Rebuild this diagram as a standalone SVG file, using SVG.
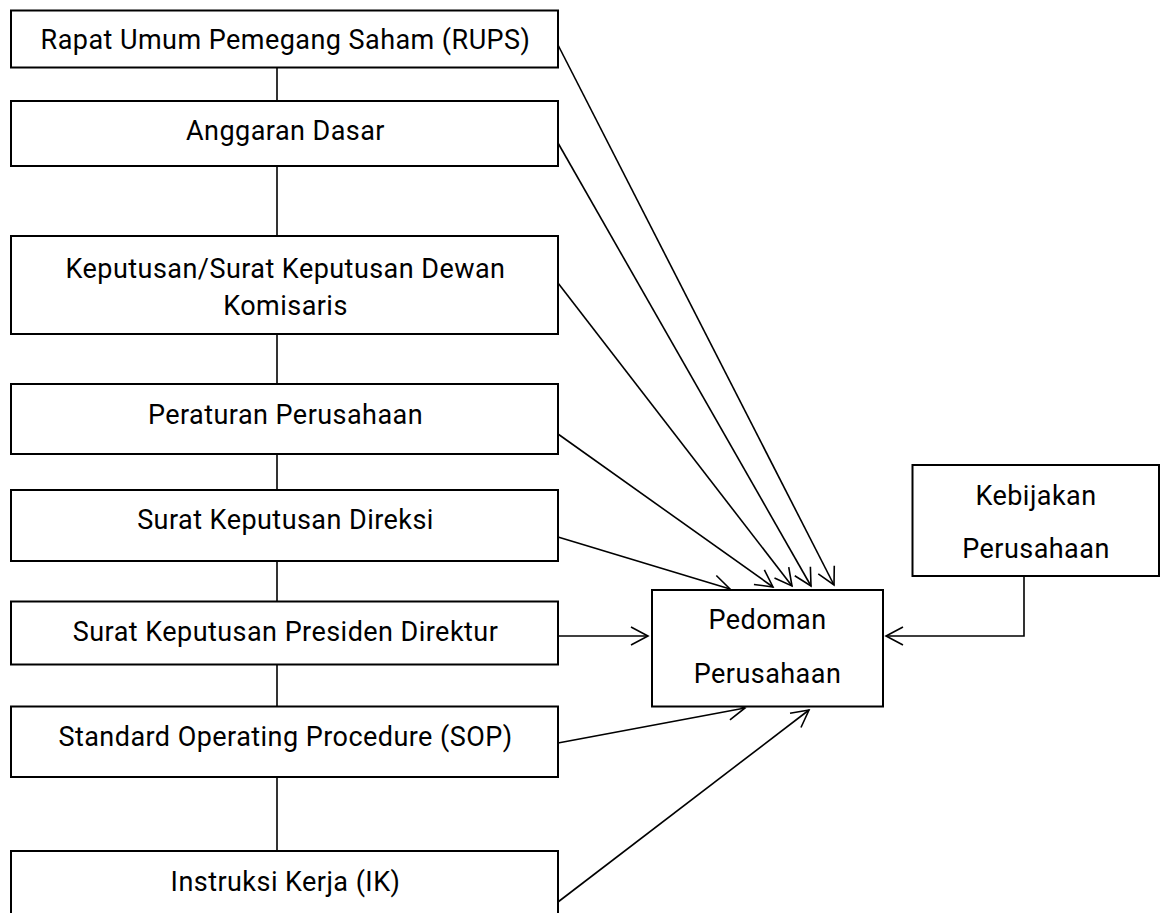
<svg xmlns="http://www.w3.org/2000/svg" width="1162" height="913" viewBox="0 0 1162 913">
<style>
.box{fill:#fff;stroke:#000;stroke-width:2}
.lbl{font-family:Roboto,"Liberation Sans",sans-serif;font-size:27px;letter-spacing:0.45px;fill:#000;text-anchor:middle}
.ln{fill:none;stroke:#000;stroke-width:1.6}
</style>
<defs>
<marker id="arr" markerUnits="userSpaceOnUse" markerWidth="24" markerHeight="24" viewBox="-20 -12 24 24" refX="0" refY="0" orient="auto">
<path d="M-17,-9 L0,0 L-17,9" fill="none" stroke="#000" stroke-width="1.6"/>
</marker>
</defs>
<rect width="1162" height="913" fill="#fff"/>
<g id="connectors">
<line class="ln" x1="277" y1="67" x2="277" y2="101"/>
<line class="ln" x1="277" y1="166" x2="277" y2="236"/>
<line class="ln" x1="277" y1="334" x2="277" y2="384"/>
<line class="ln" x1="277" y1="454" x2="277" y2="490"/>
<line class="ln" x1="277" y1="561" x2="277" y2="601"/>
<line class="ln" x1="277" y1="665" x2="277" y2="706"/>
<line class="ln" x1="277" y1="777" x2="277" y2="851"/>
<line class="ln" x1="558" y1="45" x2="834" y2="585" marker-end="url(#arr)"/>
<line class="ln" x1="558" y1="143" x2="811" y2="586" marker-end="url(#arr)"/>
<line class="ln" x1="558" y1="283" x2="792" y2="586" marker-end="url(#arr)"/>
<line class="ln" x1="558" y1="434" x2="773" y2="587" marker-end="url(#arr)"/>
<line class="ln" x1="558" y1="537" x2="730" y2="589" marker-end="url(#arr)"/>
<line class="ln" x1="558" y1="636" x2="648" y2="636" marker-end="url(#arr)"/>
<line class="ln" x1="558" y1="743" x2="745" y2="708" marker-end="url(#arr)"/>
<line class="ln" x1="558" y1="902" x2="809" y2="710" marker-end="url(#arr)"/>
<polyline class="ln" points="1024,576 1024,636 886,636" marker-end="url(#arr)"/>
</g>
<g id="rups"><rect class="box" x="11" y="10.5" width="547" height="57"/><text class="lbl" x="285.5" y="48.5">Rapat Umum Pemegang Saham (RUPS)</text></g>
<g id="anggaran"><rect class="box" x="11" y="101" width="547" height="65"/><text class="lbl" x="285.5" y="140">Anggaran Dasar</text></g>
<g id="keputusan"><rect class="box" x="11" y="236" width="547" height="98"/><text class="lbl" x="285.5" y="278">Keputusan/Surat Keputusan Dewan</text><text class="lbl" x="285.5" y="315">Komisaris</text></g>
<g id="peraturan"><rect class="box" x="11" y="384" width="547" height="70"/><text class="lbl" x="285.5" y="424">Peraturan Perusahaan</text></g>
<g id="skdireksi"><rect class="box" x="11" y="490" width="547" height="71"/><text class="lbl" x="285.5" y="529">Surat Keputusan Direksi</text></g>
<g id="skpresdir"><rect class="box" x="11" y="601.5" width="547" height="63"/><text class="lbl" x="285.5" y="641">Surat Keputusan Presiden Direktur</text></g>
<g id="sop"><rect class="box" x="11" y="706.5" width="547" height="70.5"/><text class="lbl" x="285.5" y="745.5">Standard Operating Procedure (SOP)</text></g>
<g id="ik"><rect class="box" x="11" y="851" width="547" height="80"/><text class="lbl" x="285.5" y="891">Instruksi Kerja (IK)</text></g>
<g id="pedoman"><rect class="box" x="652" y="590" width="231" height="116.5"/><text class="lbl" x="767.5" y="628.5">Pedoman</text><text class="lbl" x="767.5" y="683">Perusahaan</text></g>
<g id="kebijakan"><rect class="box" x="912.5" y="465" width="246.5" height="111"/><text class="lbl" x="1036" y="505">Kebijakan</text><text class="lbl" x="1036" y="558">Perusahaan</text></g>
</svg>
